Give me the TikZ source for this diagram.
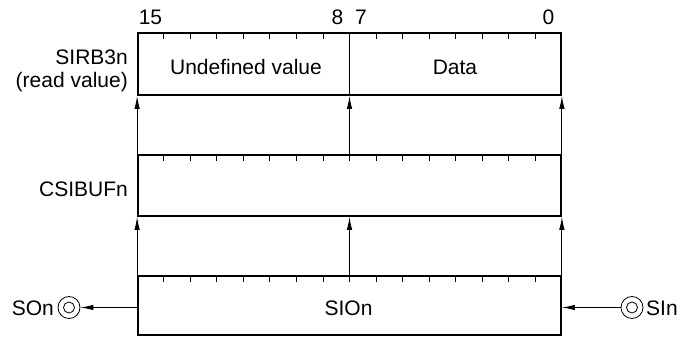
\documentclass[tikz,border=0pt]{standalone}
\usepackage{fontspec}
\setmainfont{Liberation Sans}
\usetikzlibrary{arrows.meta,calc}
\begin{document}
\begin{tikzpicture}[x=1pt,y=-1pt,
  reg/.style={draw,line width=1.8pt,minimum width=423pt,inner sep=0pt,anchor=center},
  arr/.style={line width=0.9pt,-{Latex[length=13pt,width=5.5pt]}},
  lbl/.style={font=\fontsize{21}{24}\selectfont,inner sep=0pt},
  pin/.style={draw,circle,line width=0.8pt,minimum size=22pt,inner sep=0pt},
  pinin/.style={draw,circle,line width=0.8pt,minimum size=11pt,inner sep=0pt}]
\useasboundingbox (0,0) rectangle (681,337);
% registers
\node[reg,minimum height=62pt] (top) at (349.5,64) {};
\node[reg,minimum height=61pt] (mid) at (349.5,185.5) {};
\node[reg,minimum height=59pt] (bot) at (349.5,305.5) {};
% ticks
\foreach \b in {top,mid,bot}{
  \foreach \k in {1,...,15}{
    \draw[line width=0.8pt] ($(\b.north west)!\k/16!(\b.north east)$) -- ++(0,7);
  }
}
\draw[line width=0.6pt] (top.north) -- (top.south);
% bit numbers
\node[lbl,anchor=base] (b15) at (150.5,25) {15};
\node[lbl,anchor=base] (b8) at (337.5,25) {8};
\node[lbl,anchor=base] (b7) at (361,25) {7};
\node[lbl,anchor=base] (b0) at (548.5,25) {0};
% contents
\node[lbl,anchor=base] (undef) at (246,75) {Undefined value};
\node[lbl,anchor=base] (data) at (455,75) {Data};
\node[lbl,anchor=base] (sion) at (348.5,315) {SIOn};
% names
\node[lbl,anchor=base east] (sirb) at (128,65) {SIRB3n};
\node[lbl,anchor=base east] (readv) at (128,88) {(read value)};
\node[lbl,anchor=base east] (csibuf) at (128,196) {CSIBUFn};
% arrows between registers
\draw[arr] (mid.north west) -- (top.south west);
\draw[arr] (mid.north) -- (top.south);
\draw[arr] (mid.north east) -- (top.south east);
\draw[arr] (bot.north west) -- (mid.south west);
\draw[arr] (bot.north) -- (mid.south);
\draw[arr] (bot.north east) -- (mid.south east);
% pins
\node[pin] (son) at (69,307.5) {};
\node[pinin] (soni) at (69,307.5) {};
\node[pin] (sin) at (632,307.5) {};
\node[pinin] (sini) at (632,307.5) {};
\node[lbl,anchor=base east] (sontxt) at (54,315.5) {SOn};
\node[lbl,anchor=base west] (sintxt) at (646,315.5) {SIn};
\draw[arr] (bot.west |- son.east) -- (son.east);
\draw[arr] (sin.west) -- (bot.east |- sin.west);
\end{tikzpicture}
\end{document}
